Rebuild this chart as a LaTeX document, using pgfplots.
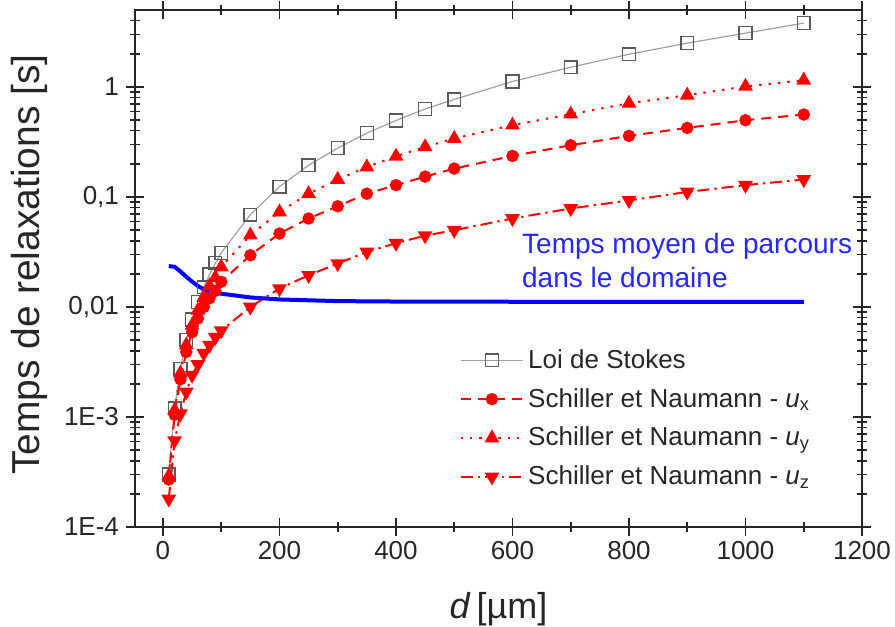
\documentclass[border=0pt]{standalone}
\usepackage{fontspec}
\setmainfont{Liberation Sans}
\usepackage{pgfplots}
\usepackage{pgfplotstable}
\pgfplotsset{compat=1.18}
\pgfplotstableread{
x stokes ux uy uz
10 3.0e-4 2.7e-4 2.9e-4 1.8e-4
20 1.2e-3 1.05e-3 1.15e-3 6.1e-4
30 2.75e-3 2.2e-3 2.5e-3 1.07e-3
40 5.0e-3 3.9e-3 4.5e-3 1.69e-3
50 7.7e-3 5.9e-3 6.8e-3 2.4e-3
60 0.0111 7.85e-3 9.3e-3 3.0e-3
70 0.0151 0.0100 0.0122 3.8e-3
80 0.0198 0.0120 0.0155 4.5e-3
90 0.025 0.0140 0.0185 5.3e-3
100 0.031 0.0169 0.0231 6.1e-3
150 0.069 0.0295 0.0449 0.0100
200 0.124 0.0465 0.073 0.0147
250 0.194 0.0637 0.107 0.0194
300 0.278 0.0823 0.144 0.0248
350 0.38 0.107 0.187 0.0316
400 0.495 0.128 0.234 0.038
450 0.63 0.153 0.285 0.0445
500 0.77 0.181 0.34 0.0498
600 1.12 0.236 0.449 0.0637
700 1.51 0.295 0.565 0.0785
800 1.98 0.359 0.71 0.093
900 2.5 0.424 0.84 0.111
1000 3.08 0.498 1.01 0.128
1100 3.8 0.561 1.15 0.144
}\datatab
\pgfplotstableread{
x t
10 0.0235
20 0.0232
30 0.0210
40 0.0188
50 0.0170
60 0.0155
70 0.0145
80 0.0139
100 0.0132
150 0.0122
200 0.0117
300 0.0113
400 0.0112
600 0.01115
800 0.0111
1100 0.0111
}\bluetab
\definecolor{stkgray}{RGB}{160,160,160}
\definecolor{stkmark}{RGB}{90,90,90}
\begin{document}
\begin{tikzpicture}
\path[use as bounding box] (-67.5pt,-50pt) rectangle (380pt,263.5pt);
\begin{axis}[
  at={(0pt,0pt)}, anchor=south west,
  width=363.5pt, height=258.5pt, scale only axis,
  ymode=log,
  xmin=-48, xmax=1200, ymin=1e-4, ymax=5,
  axis line style={line width=1pt, black!85},
  xtick={0,200,...,1200},
  minor xtick={100,300,...,1100},
  ytick={1e-4,1e-3,1e-2,1e-1,1},
  yticklabels={1E-4,1E-3,{0,01},{0,1},1},
  minor ytick={2e-4,3e-4,4e-4,5e-4,6e-4,7e-4,8e-4,9e-4,2e-3,3e-3,4e-3,5e-3,6e-3,7e-3,8e-3,9e-3,0.02,0.03,0.04,0.05,0.06,0.07,0.08,0.09,0.2,0.3,0.4,0.5,0.6,0.7,0.8,0.9,2,3,4},
  tick align=center,
  major tick length=9pt,
  minor tick length=5pt,
  every tick/.style={line width=0.8pt, black!85},
  xtick pos=both, ytick pos=both,
  /pgf/number format/assume math mode=true,
  /pgf/number format/1000 sep={},
  tick label style={font=\fontsize{13}{15}\selectfont, black!85},
  xticklabel style={yshift=1pt},
  xlabel={\textit{d}\,[µm]},
  ylabel={Temps de relaxations [s]},
  xlabel style={font=\fontsize{18}{20}\selectfont, black!85, at={(axis description cs:0.5,0)}, anchor=center, yshift=-41pt},
  ylabel style={font=\fontsize{19.5}{22}\selectfont, black!85, at={(axis description cs:0,0.5)}, anchor=center, yshift=53pt, xshift=2pt},
  legend style={draw=none, fill=none, at={(axis description cs:0.446,0.352)}, anchor=north west,
    font=\fontsize{13}{15}\selectfont, text=black!85, row sep=4.5pt, inner sep=0pt},
  legend cell align=left,
  legend image code/.code={\draw[mark repeat=2,mark phase=2] plot coordinates {(0cm,0cm) (0.55cm,0cm) (1.1cm,0cm)};},
  clip=false,
]
\addplot[stkgray, line width=0.6pt, mark=square, mark size=3.2pt, mark options={draw=stkmark, fill=white, solid, line width=0.7pt}] table[x=x,y=stokes]{\datatab};
\addlegendentry{Loi de Stokes}
\addplot[red, line width=1pt, dash pattern=on 5pt off 3.5pt, mark=*, mark size=2.6pt, mark options={solid, fill=red, draw=red}] table[x=x,y=ux]{\datatab};
\addlegendentry{Schiller et Naumann - \textit{u}\textsubscript{x}}
\addplot[red, line width=1pt, dash pattern=on 1.2pt off 3.5pt, mark=triangle*, mark size=3.3pt, mark options={solid, fill=red, draw=red}] table[x=x,y=uy]{\datatab};
\addlegendentry{Schiller et Naumann - \textit{u}\textsubscript{y}}
\addplot[red, line width=1pt, dash pattern=on 6pt off 2.5pt on 1.2pt off 2.5pt, mark=triangle*, mark size=3.3pt, mark options={solid, fill=red, draw=red, rotate=180}] table[x=x,y=uz]{\datatab};
\addlegendentry{Schiller et Naumann - \textit{u}\textsubscript{z}}
\addplot[blue, line width=2pt, forget plot] table[x=x,y=t]{\bluetab};
\node[anchor=west, align=left, text=blue!85!white, font=\fontsize{14}{17}\selectfont, inner sep=0pt] at (axis description cs:0.532,0.516) {Temps moyen de parcours\\dans le domaine};
\end{axis}
\end{tikzpicture}
\end{document}
